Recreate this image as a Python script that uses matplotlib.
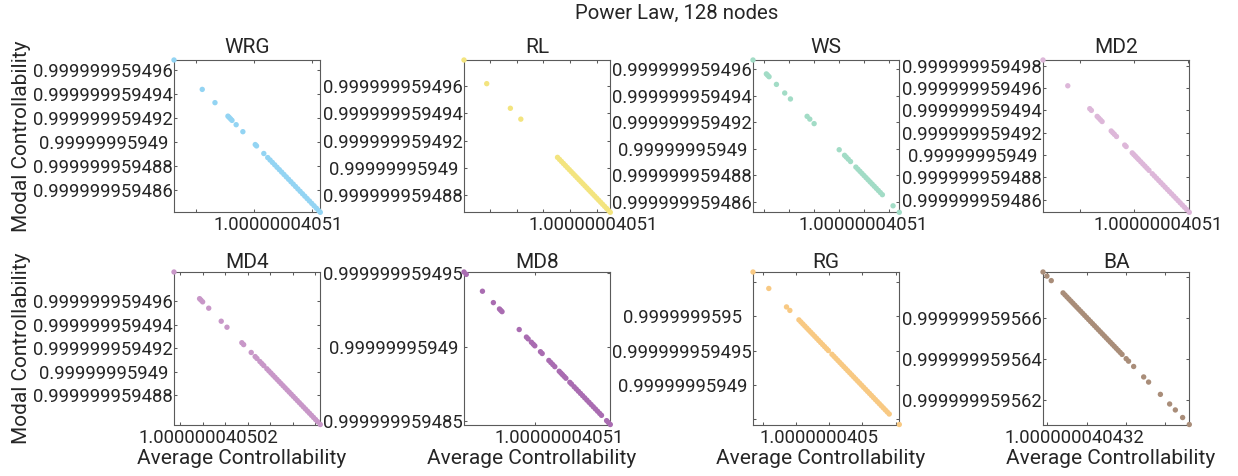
"""Power Law, 128 nodes: modal vs average controllability for eight graph models."""
import matplotlib
matplotlib.use("Agg")
import matplotlib.pyplot as plt

plt.rcParams["font.family"] = ["Roboto", "DejaVu Sans"]

TEXT = "#262626"
AXIS = "#5a5a5a"

MODELS = ["WRG", "RL", "WS", "MD2", "MD4", "MD8", "RG", "BA"]
COLORS = ["#93d4f3", "#f3e47f", "#a2dcc6", "#ddb7d9", "#c897c8", "#a96cb1", "#f8c983", "#a98d79"]

# modal controllability: last digits of 0.999999959xxx (units of 1e-12)
# average controllability: offset along the axis (arbitrary units of 1e-13)
wrg_x = [0, 2.44, 3.54, 4.66, 4.77, 4.89, 5.01, 5.37, 5.95, 7.02, 7.13, 7.76,
         8.1, 8.3, 8.5, 8.7, 8.9, 9.1, 9.3, 9.5, 9.7, 9.9, 10.1, 10.3, 10.5, 10.7,
         10.9, 11.1, 11.3, 11.5, 11.7, 11.9, 12.1, 12.3, 12.5, 12.64]
wrg_y = [496.83, 494.39, 493.29, 492.17, 492.06, 491.94, 491.82, 491.46, 490.88, 489.81,
         489.70, 489.07, 488.73, 488.53, 488.33, 488.13, 487.93, 487.73, 487.53, 487.33,
         487.13, 486.93, 486.73, 486.53, 486.33, 486.13, 485.93, 485.73, 485.53, 485.33,
         485.13, 484.93, 484.73, 484.53, 484.33, 484.19]

rl_x = [0, 1.74, 3.55, 4.35, 7.16, 7.31, 7.46, 7.61, 7.76, 7.91, 8.06, 8.21, 8.36, 8.51,
        8.66, 8.81, 8.96, 9.11, 9.26, 9.41, 9.56, 9.71, 9.86, 10.01, 10.16, 10.31, 10.46,
        10.61, 10.76, 10.91, 11.06, 11.2]
rl_y = [497.93, 496.19, 494.38, 493.58, 490.77, 490.62, 490.47, 490.32, 490.17, 490.02,
        489.87, 489.72, 489.57, 489.42, 489.27, 489.12, 488.97, 488.82, 488.67, 488.52,
        488.37, 488.22, 488.07, 487.92, 487.77, 487.62, 487.47, 487.32, 487.17, 487.02,
        486.87, 486.73]

ws_x = [0, 1.05, 1.15, 1.26, 1.84, 2.49, 2.94, 4.25, 4.46, 4.80, 6.77, 7.19, 7.32, 7.48,
        7.66, 8.08, 8.24, 8.40, 8.56, 8.72, 8.88, 9.04, 9.20, 9.36, 9.52, 9.68, 9.84,
        10.00, 10.16, 11.00, 11.49]
ws_y = [496.69, 495.64, 495.54, 495.43, 494.85, 494.20, 493.75, 492.44, 492.23, 491.89,
        489.92, 489.50, 489.37, 489.21, 489.03, 488.61, 488.45, 488.29, 488.13, 487.97,
        487.81, 487.65, 487.49, 487.33, 487.17, 487.01, 486.85, 486.69, 486.53, 485.69,
        485.20]

md2_x = [0, 2.31, 4.36, 4.51, 5.05, 5.20, 5.36, 5.51, 6.36, 6.51, 6.66, 6.85, 7.62, 7.75,
         8.32, 8.47, 8.62, 8.78, 8.93, 9.12, 9.31, 9.50, 9.69, 9.88, 10.19, 10.39, 10.59,
         10.79, 10.99, 11.19, 11.39, 11.59, 11.79, 11.99, 12.19, 12.39, 12.59, 12.79,
         12.99, 13.19, 13.39, 13.64]
md2_y = [498.51, 496.20, 494.15, 494.00, 493.46, 493.31, 493.15, 493.00, 492.15, 492.00,
         491.85, 491.66, 490.89, 490.76, 490.19, 490.04, 489.89, 489.73, 489.58, 489.39,
         489.20, 489.01, 488.82, 488.63, 488.32, 488.12, 487.92, 487.72, 487.52, 487.32,
         487.12, 486.92, 486.72, 486.52, 486.32, 486.12, 485.92, 485.72, 485.52, 485.32,
         485.12, 484.87]

md4_x = [0, 2.27, 2.39, 2.54, 3.08, 4.19, 4.70, 6.02, 6.18, 6.85, 7.20, 7.36, 7.62, 7.80,
         7.97, 8.24, 8.42, 8.60, 8.78, 8.96, 9.14, 9.32, 9.50, 9.68, 9.86, 10.04, 10.22,
         10.40, 10.58, 10.76, 10.94, 11.12, 11.30, 11.48, 11.66, 11.84, 12.02, 12.20,
         12.38, 12.56, 12.74, 12.98]
md4_y = [498.51, 496.24, 496.12, 495.97, 495.43, 494.32, 493.81, 492.49, 492.33, 491.66,
         491.31, 491.15, 490.89, 490.71, 490.54, 490.27, 490.09, 489.91, 489.73, 489.55,
         489.37, 489.19, 489.01, 488.83, 488.65, 488.47, 488.29, 488.11, 487.93, 487.75,
         487.57, 487.39, 487.21, 487.03, 486.85, 486.67, 486.49, 486.31, 486.13, 485.95,
         485.77, 485.53]

md8_x = [0, 0.16, 1.30, 2.07, 2.50, 2.59, 2.68, 3.89, 4.40, 4.52, 4.75, 4.88, 4.99, 5.39,
         5.51, 5.98, 6.12, 6.26, 6.40, 6.71, 6.83, 6.94, 7.06, 7.18, 7.46, 7.58, 7.76,
         7.91, 8.06, 8.21, 8.36, 8.51, 8.66, 8.81, 8.96, 9.11, 9.26, 9.41, 9.56, 9.69,
         10.05, 10.17, 10.31]
md8_y = [495.05, 494.89, 493.75, 492.98, 492.55, 492.46, 492.37, 491.16, 490.65, 490.53,
         490.30, 490.17, 490.06, 489.66, 489.54, 489.07, 488.93, 488.79, 488.65, 488.34,
         488.22, 488.11, 487.99, 487.87, 487.59, 487.47, 487.29, 487.14, 486.99, 486.84,
         486.69, 486.54, 486.39, 486.24, 486.09, 485.94, 485.79, 485.64, 485.49, 485.36,
         485.00, 484.88, 484.74]

rg_x = [0, 2.40, 5.09, 5.60, 6.98, 7.28, 7.58, 7.88, 8.18, 8.48, 8.78, 9.08, 9.38, 9.68,
        9.98, 10.28, 10.58, 10.88, 11.18, 11.45, 12.00, 12.30, 12.60, 12.90, 13.20, 13.50,
        13.80, 14.10, 14.40, 14.70, 15.00, 15.30, 15.60, 15.90, 16.20, 16.50, 16.80, 17.10,
        17.40, 17.70, 18.00, 18.30, 18.60, 18.90, 19.20, 19.50, 19.80, 20.10, 20.40, 20.70,
        22.23]
rg_y = [506.46, 504.06, 501.37, 500.86, 499.48, 499.18, 498.88, 498.58, 498.28, 497.98,
        497.68, 497.38, 497.08, 496.78, 496.48, 496.18, 495.88, 495.58, 495.28, 495.01,
        494.46, 494.16, 493.86, 493.56, 493.26, 492.96, 492.66, 492.36, 492.06, 491.76,
        491.46, 491.16, 490.86, 490.56, 490.26, 489.96, 489.66, 489.36, 489.06, 488.76,
        488.46, 488.16, 487.86, 487.56, 487.26, 486.96, 486.66, 486.36, 486.06, 485.76,
        484.23]

ba_x = [0, 0.20, 0.42, 1.02, 1.12, 1.22, 1.32, 1.42, 1.52, 1.62, 1.72, 1.82, 1.92, 2.02,
        2.12, 2.22, 2.32, 2.42, 2.52, 2.62, 2.72, 2.82, 2.92, 3.02, 3.12, 3.22, 3.32, 3.42,
        3.52, 3.62, 3.72, 3.82, 3.92, 4.02, 4.23, 4.35, 4.61, 5.12, 5.37, 5.97, 6.44, 6.73,
        7.10, 7.44]
ba_y = [568.24, 568.04, 567.82, 567.22, 567.12, 567.02, 566.92, 566.82, 566.72, 566.62,
        566.52, 566.42, 566.32, 566.22, 566.12, 566.02, 565.92, 565.82, 565.72, 565.62,
        565.52, 565.42, 565.32, 565.22, 565.12, 565.02, 564.92, 564.82, 564.72, 564.62,
        564.52, 564.42, 564.32, 564.22, 564.01, 563.89, 563.63, 563.12, 562.87, 562.27,
        561.80, 561.51, 561.14, 560.80]

# tick values and the labels MATLAB printed for them
Y_TICKS = [
    [496, 494, 492, 490, 488, 486],
    [496, 494, 492, 490, 488],
    [496, 494, 492, 490, 488, 486],
    [498, 496, 494, 492, 490, 488, 486],
    [496, 494, 492, 490, 488],
    [495, 490, 485],
    [505, 500, 495, 490, 485],
    [568, 566, 564, 562],
]
Y_LABELS = [
    ["0.999999959496", "0.999999959494", "0.999999959492", "0.99999995949 ", "0.999999959488", "0.999999959486"],
    ["0.999999959496", "0.999999959494", "0.999999959492", "0.99999995949 ", "0.999999959488"],
    ["0.999999959496", "0.999999959494", "0.999999959492", "0.99999995949 ", "0.999999959488", "0.999999959486"],
    ["0.999999959498", "0.999999959496", "0.999999959494", "0.999999959492", "0.99999995949 ", "0.999999959488", "0.999999959486"],
    ["0.999999959496", "0.999999959494", "0.999999959492", "0.99999995949 ", "0.999999959488"],
    ["0.999999959495", "0.99999995949 ", "0.999999959485"],
    ["", "0.9999999595  ", "0.999999959495", "0.99999995949 ", ""],
    ["", "0.999999959566", "0.999999959564", "0.999999959562"],
]
X_TICKS = [
    [1.92, 6.90, 11.88],
    [2.02, 4.04, 6.06, 8.11, 10.15],
    [0.84, 2.81, 4.78, 6.75, 8.71, 10.67],
    [3.48, 8.50, 13.52],
    [0.53, 2.53, 4.53, 6.54, 8.54, 10.54, 12.54],
    [5.03, 10.26],
    [1.53, 6.56, 11.60, 16.63, 21.67],
    [0.22, 2.22, 4.22, 6.22],
]
X_LABEL_AT = [8.97, 9.90, 8.66, 10.74, 3.01, 6.71, 10.02, 1.59]
X_LABELS = ["1.00000004051", "1.00000004051", "1.00000004051", "1.00000004051",
            "1.000000040502", "1.00000004051", "1.0000000405", "1.000000040432"]

XS = [wrg_x, rl_x, ws_x, md2_x, md4_x, md8_x, rg_x, ba_x]
YS = [wrg_y, rl_y, ws_y, md2_y, md4_y, md8_y, rg_y, ba_y]

# ---------------------------------------------------------------------
# layout (pixels of the 1238 x 476 canvas)
# ---------------------------------------------------------------------
W, H = 1238, 476
LEFTS = [174, 464, 753, 1043]
ROWS = [(60, 212.3), (272, 424.5)]
AX_W = 146.3

fig = plt.figure(figsize=(W / 100, H / 100), dpi=100)
fig.text(676.7 / W, 1 - 18.5 / H, "Power Law, 128 nodes", ha="center", va="baseline",
         fontsize=14.7, color=TEXT)

for i, name in enumerate(MODELS):
    row, col = divmod(i, 4)
    top, bottom = ROWS[row]
    ax = fig.add_axes([LEFTS[col] / W, 1 - bottom / H, AX_W / W, (bottom - top) / H])
    x, y = XS[i], YS[i]
    ax.scatter(x, y, s=15, color=COLORS[i], edgecolors="none", clip_on=False, zorder=3)
    ax.set_xlim(min(x), max(x))
    ax.set_ylim(min(y), max(y))

    ax.set_yticks(Y_TICKS[i], labels=Y_LABELS[i])
    ax.set_xticks(X_TICKS[i], labels=[""] * len(X_TICKS[i]))
    ax.set_xticks([X_LABEL_AT[i]], labels=[X_LABELS[i]], minor=True)

    ax.tick_params(which="major", direction="in", top=True, right=True, length=2.5,
                   width=0.75, color=AXIS, labelcolor=TEXT, labelsize=13.3)
    ax.tick_params(axis="y", pad=1)
    ax.tick_params(axis="x", which="both", pad=3, labelsize=13.3, labelcolor=TEXT)
    ax.tick_params(axis="x", which="minor", length=0, top=False)
    for sp in ax.spines.values():
        sp.set_color(AXIS)
        sp.set_linewidth(0.8)

    ax.set_title(name, fontsize=15, color=TEXT, pad=4.8 if row == 0 else 3.1)

    if col == 0:
        ax.set_ylabel("Modal Controllability", fontsize=15, color=TEXT)
        ax.yaxis.set_label_coords((21.7 - LEFTS[0]) / AX_W, 0.5)
        ax.yaxis.label.set_va("center")
        ax.yaxis.label.set_ha("center")
    if row == 1:
        ax.set_xlabel("Average Controllability", fontsize=15, color=TEXT)
        ax.xaxis.set_label_coords(0.463, (bottom - 459) / (bottom - top))
        ax.xaxis.label.set_va("center")

fig.savefig("out.png", dpi=100)
plt.close(fig)
